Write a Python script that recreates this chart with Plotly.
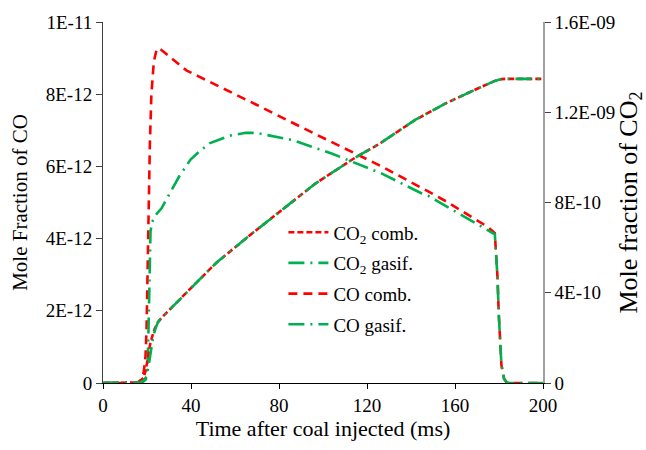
import plotly.graph_objects as go

# Time axis (ms) and mole fractions; CO in units of 1e-12, CO2 in units of 1e-10
co_comb_t = [0, 10, 14, 16, 17.5, 18.5, 19.3, 19.8, 20.2, 20.6, 21.3, 22.0, 23.1, 24.3, 25.5,
             27, 28.8, 33.3, 37.9, 43.9, 51.4, 70, 97, 118, 126, 148, 156, 175, 178.1,
             179.3, 179.9, 181.1, 182.3, 183.4, 185, 200]
co_comb_v = [0, 0, 0, 0.03, 0.1, 0.3, 0.7, 1.5, 3.0, 4.5, 6.6, 8.0, 8.9, 9.22, 9.28,
             9.2, 9.11, 8.89, 8.66, 8.48, 8.26, 7.70, 6.88, 6.27, 6.02, 5.30, 5.03, 4.32, 4.15,
             2.95, 1.9, 0.5, 0.12, 0.02, 0, 0]

co_gasif_t = [0, 15, 18, 19.5, 20.3, 20.7, 21.0, 21.3, 21.6, 22.3, 23.5, 26.6, 31.1, 34.8,
              39.8, 43.9, 48.4, 57.5, 65, 69.5, 86.1, 104.2, 126.8, 144.9, 148, 166.1, 178.1,
              179.3, 179.9, 181.1, 182.3, 183.4, 185, 200]
co_gasif_v = [0, 0, 0.02, 0.1, 0.5, 1.5, 2.6, 3.6, 4.2, 4.45, 4.62, 4.84, 5.34, 5.74,
              6.19, 6.42, 6.64, 6.85, 6.93, 6.93, 6.73, 6.35, 5.80, 5.25, 5.18, 4.53, 4.12,
              2.95, 1.9, 0.5, 0.12, 0.02, 0, 0]

co2_comb_t = [0, 12, 15.5, 17, 18.5, 19.5, 20.5, 21.5, 22.5, 23.5, 25, 27.1, 39.4, 51.4,
              66.5, 81.6, 96.7, 114.8, 125.3, 141.9, 155.5, 168, 178.1, 181.1, 183, 200]
co2_comb_v = [0, 0, 0.02, 0.08, 0.25, 0.6, 1.2, 1.75, 2.1, 2.4, 2.7, 2.94, 4.15, 5.32,
              6.53, 7.70, 8.85, 10.0, 10.58, 11.66, 12.38, 12.95, 13.39, 13.47, 13.48, 13.48]

co2_gasif_t = [0, 14, 17, 18.5, 19.8, 20.8, 21.8, 22.8, 23.8, 25, 27.1, 39.4, 51.4,
               66.5, 81.6, 96.7, 114.8, 125.3, 141.9, 155.5, 168, 178.1, 181.1, 183, 200]
co2_gasif_v = [0, 0, 0.03, 0.1, 0.3, 0.8, 1.5, 2.05, 2.4, 2.7, 2.94, 4.15, 5.32,
               6.53, 7.70, 8.85, 10.0, 10.58, 11.66, 12.38, 12.95, 13.39, 13.47, 13.48, 13.48]

x_ticks = [0, 40, 80, 120, 160, 200]
co_ticks = [0, 2e-12, 4e-12, 6e-12, 8e-12, 1e-11]
co_tick_text = ["0", "2E-12", "4E-12", "6E-12", "8E-12", "1E-11"]
co2_ticks = [0, 4e-10, 8e-10, 1.2e-9, 1.6e-9]
co2_tick_text = ["0", "4E-10", "8E-10", "1.2E-09", "1.6E-09"]

RED = "#FF0000"
GREEN = "#00B050"
FONT = "Liberation Serif, Times New Roman, serif"

fig = go.Figure()

fig.add_trace(go.Scatter(
    x=co2_comb_t, y=[v * 1e-10 for v in co2_comb_v], yaxis="y2",
    name="CO<sub>2</sub> comb.", mode="lines", legendgroup="a",
    line=dict(color=RED, width=2.6, dash="6px,3px")))
fig.add_trace(go.Scatter(
    x=co2_gasif_t, y=[v * 1e-10 for v in co2_gasif_v], yaxis="y2",
    name="CO<sub>2</sub> gasif.", mode="lines", legendgroup="b",
    line=dict(color=GREEN, width=2.6, dash="16px,6px,2px,6px")))
fig.add_trace(go.Scatter(
    x=co_comb_t, y=[v * 1e-12 for v in co_comb_v],
    name="CO comb.", mode="lines", legendgroup="c",
    line=dict(color=RED, width=2.6, dash="9px,6px")))
fig.add_trace(go.Scatter(
    x=co_gasif_t, y=[v * 1e-12 for v in co_gasif_v],
    name="CO gasif.", mode="lines", legendgroup="d",
    line=dict(color=GREEN, width=2.6, dash="16px,6px,2px,6px")))

fig.update_layout(
    width=646, height=450,
    margin=dict(l=103, r=101, t=13, b=67),
    paper_bgcolor="white", plot_bgcolor="white",
    font=dict(family=FONT, size=19, color="black"),
    showlegend=True,
    legend=dict(x=0.41, y=0.47, xanchor="left", yanchor="top",
                bgcolor="rgba(0,0,0,0)", font=dict(family=FONT, size=19),
                tracegroupgap=3, itemwidth=40),
    xaxis=dict(range=[0, 200], tickvals=x_ticks, showgrid=False, zeroline=False,
               showline=True, linecolor="black", linewidth=1,
               ticks="outside", ticklen=5, tickcolor="black",
               title=dict(text="Time after coal injected (ms)", font=dict(size=22), standoff=4)),
    yaxis=dict(range=[0, 1e-11], tickvals=co_ticks, ticktext=co_tick_text,
               showgrid=False, zeroline=False, showline=True, linecolor="#404040", linewidth=1,
               ticks="outside", ticklen=6, tickcolor="#404040",
               title=dict(text="Mole Fraction of CO", font=dict(size=21), standoff=12)),
    yaxis2=dict(range=[0, 1.6e-9], tickvals=co2_ticks, ticktext=co2_tick_text,
                overlaying="y", side="right", showgrid=False, zeroline=False,
                showline=True, linecolor="#A0A0A0", linewidth=1.5,
                ticks="outside", ticklen=6, tickcolor="#404040",
                title=dict(text="Mole fraction of CO<sub>2</sub>", font=dict(size=26), standoff=1)),
)

fig.write_html("out.html")
